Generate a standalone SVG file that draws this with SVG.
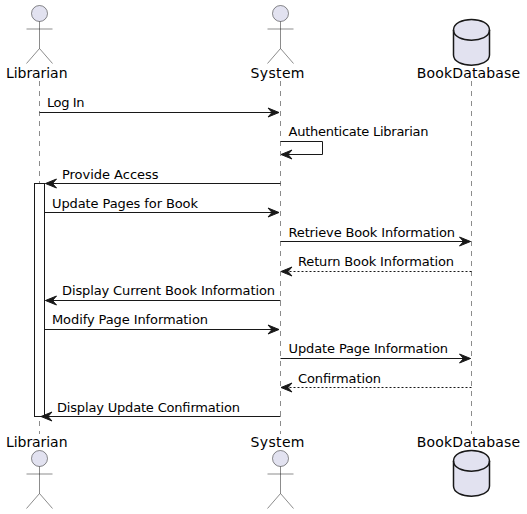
<svg xmlns="http://www.w3.org/2000/svg" width="527" height="514" viewBox="0 0 527 514">
<defs>
<marker id="arr" markerUnits="userSpaceOnUse" markerWidth="13" markerHeight="12" refX="11" refY="4.5" orient="auto-start-reverse" overflow="visible"><path d="M0,0 L11,4.500 L0,9 L4,4.500 Z" fill="#181818" stroke="#181818" stroke-width="1"/></marker>
<g id="actor"><circle cx="0" cy="0" r="8" class="head"/><path d="M0,8 V35 M-13,15.500 H13 M0,35 L-13,50 M0,35 L13,50" class="body"/></g>
</defs>
<style>
rect.bg{fill:#fff}
.life{stroke:#181818;stroke-width:.5;stroke-dasharray:5 5;fill:none}
.head{fill:#E2E2F0;stroke:#181818;stroke-width:.5}
.body{fill:none;stroke:#181818;stroke-width:.5}
.db{fill:#E2E2F0;stroke:#181818;stroke-width:1.5}
.dbl{fill:none;stroke:#181818;stroke-width:1.5}
.act{fill:#fff;stroke:#181818;stroke-width:1}
.msg{fill:none;stroke:#181818;stroke-width:1;marker-end:url(#arr)}
.ret{stroke-dasharray:2 2}
text{font-family:"DejaVu Sans",sans-serif;fill:#000}
.p{font-size:14px}
.m{font-size:13px}
</style>
<rect class="bg" width="527" height="514"/>
<g id="lifelines">
<path class="life" d="M39.500,81 V434"/>
<path class="life" d="M280.500,81 V434"/>
<path class="life" d="M471.500,81 V434"/>
</g>
<g id="activation"><rect class="act" x="34.500" y="183.500" width="10" height="233"/></g>
<g id="connectors">
<path class="msg" d="M39.500,112.500 H279"/>
<path class="msg" d="M280.500,141.500 H322.500 V154.500 H281"/>
<path class="msg" d="M280.500,183.500 H45.500"/>
<path class="msg" d="M44.500,212.500 H279"/>
<path class="msg" d="M280.500,241.500 H470.500"/>
<path class="msg ret" d="M471.500,271.500 H281"/>
<path class="msg" d="M280.500,300.500 H45.500"/>
<path class="msg" d="M44.500,329.500 H279"/>
<path class="msg" d="M280.500,358.500 H470.500"/>
<path class="msg ret" d="M471.500,387.500 H281"/>
<path class="msg" d="M280.500,416.500 H41"/>
</g>
<g id="labels">
<text class="m" x="47" y="107" textLength="37.500">Log In</text>
<text class="m" x="288.500" y="136" textLength="140">Authenticate Librarian</text>
<text class="m" x="62" y="179" textLength="96.500">Provide Access</text>
<text class="m" x="52" y="208" textLength="146">Update Pages for Book</text>
<text class="m" x="288.500" y="237" textLength="166.500">Retrieve Book Information</text>
<text class="m" x="298" y="266" textLength="156">Return Book Information</text>
<text class="m" x="62" y="295" textLength="213">Display Current Book Information</text>
<text class="m" x="52" y="324" textLength="156">Modify Page Information</text>
<text class="m" x="288.500" y="353" textLength="159.500">Update Page Information</text>
<text class="m" x="298" y="383" textLength="83">Confirmation</text>
<text class="m" x="57" y="412" textLength="183">Display Update Confirmation</text>
</g>
<g id="Librarian-top"><use href="#actor" x="39.500" y="13.500"/><text class="p" x="6" y="78" textLength="61.500">Librarian</text></g>
<g id="System-top"><use href="#actor" x="280.500" y="13.500"/><text class="p" x="250.500" y="78" textLength="54">System</text></g>
<g id="BookDatabase-top">
<path class="db" d="M453.500,30 C453.500,16 489.500,16 489.500,30 V55 C489.500,68.500 453.500,68.500 453.500,55 Z"/>
<path class="dbl" d="M453.500,30 C453.500,43.500 489.500,43.500 489.500,30"/>
<text class="p" x="416.700" y="78" textLength="103.500">BookDatabase</text>
</g>
<g id="Librarian-bottom"><text class="p" x="6" y="447" textLength="61.500">Librarian</text><use href="#actor" x="39.500" y="458.500"/></g>
<g id="System-bottom"><text class="p" x="250.500" y="447" textLength="54">System</text><use href="#actor" x="280.500" y="458.500"/></g>
<g id="BookDatabase-bottom">
<path class="db" d="M453.500,461 C453.500,447 489.500,447 489.500,461 V486 C489.500,499.500 453.500,499.500 453.500,486 Z"/>
<path class="dbl" d="M453.500,461 C453.500,474.500 489.500,474.500 489.500,461"/>
<text class="p" x="416.700" y="447" textLength="103.500">BookDatabase</text>
</g>
</svg>
